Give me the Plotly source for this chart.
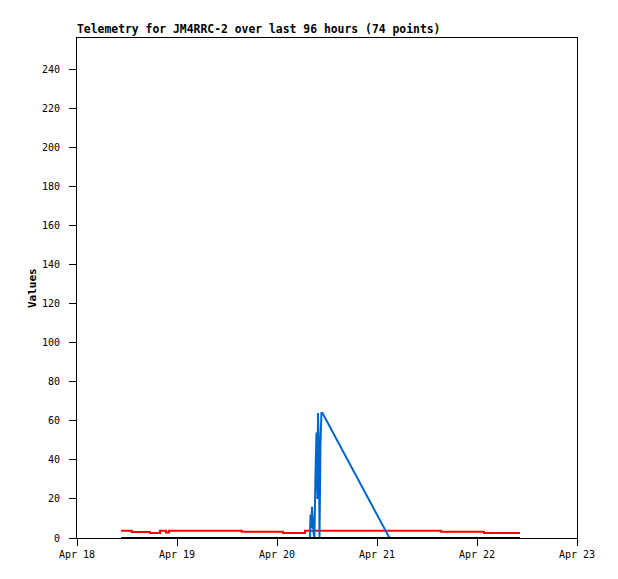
import plotly.graph_objects as go

# telemetry channels (timestamps where the value changes)
red_times = ["2024-04-18 10:34", "2024-04-18 13:08", "2024-04-18 17:31", "2024-04-18 19:55",
             "2024-04-18 21:22", "2024-04-18 22:05", "2024-04-19 15:32", "2024-04-20 01:26",
             "2024-04-20 06:43", "2024-04-21 15:22", "2024-04-22 01:41", "2024-04-22 10:19"]
red_values = [3.7, 3.1, 2.55, 3.7, 2.8, 3.7, 3.2, 2.55, 3.7, 3.2, 2.55, 2.55]

blue_times = ["2024-04-20 07:55", "2024-04-20 08:02", "2024-04-20 08:16", "2024-04-20 08:24",
              "2024-04-20 08:45", "2024-04-20 08:59", "2024-04-20 09:14", "2024-04-20 09:28",
              "2024-04-20 09:43", "2024-04-20 09:50", "2024-04-20 10:05", "2024-04-20 10:12",
              "2024-04-20 10:26", "2024-04-20 10:40", "2024-04-20 10:55", "2024-04-21 03:00"]
blue_values = [0, 12, 5, 16, 3, 0, 32, 54, 20, 64, 45, 0, 48, 64, 64, 0]

black_times = ["2024-04-18 10:34", "2024-04-22 10:19"]
black_values = [0, 0]

x_range = ["2024-04-18", "2024-04-23"]
y_range = [0, 256]

mono = "DejaVu Sans Mono"

fig = go.Figure()
fig.add_scatter(x=red_times, y=red_values, mode="lines", line=dict(color="#ff0000", width=2, shape="hv"))
fig.add_scatter(x=blue_times, y=blue_values, mode="lines", line=dict(color="#0066cc", width=2))
fig.add_scatter(x=black_times, y=black_values, mode="lines", line=dict(color="#000000", width=2))

fig.update_xaxes(range=x_range, type="date", dtick=86400000, tickformat="%b %d",
                 showgrid=False, zeroline=False, showline=True, linecolor="black", linewidth=1,
                 mirror=True, ticks="outside", ticklen=7, tickcolor="black",
                 tickfont=dict(family=mono, size=10, color="black"))
fig.update_yaxes(range=y_range, dtick=20, showgrid=False, zeroline=False, showline=True,
                 linecolor="black", linewidth=1, mirror=True, ticks="outside", ticklen=7,
                 tickcolor="black", ticklabelstandoff=7,
                 tickfont=dict(family=mono, size=10, color="black"))

fig.add_annotation(text="<b>Telemetry for JM4RRC-2 over last 96 hours (74 points)</b>",
                   xref="paper", yref="paper", x=0, y=1, xanchor="left", yanchor="bottom",
                   showarrow=False, xshift=-2, yshift=0, font=dict(family=mono, size=11.4, color="black"))
fig.add_annotation(text="<b>Values</b>", xref="paper", yref="paper", x=-0.09, y=0.5,
                   xanchor="center", yanchor="middle",
                   textangle=-90, showarrow=False, font=dict(family=mono, size=11, color="black"))

# page body adds an 8px offset, so the figure is shrunk to keep the plot box in place
fig.update_layout(width=610, height=571, margin=dict(l=69, r=41, t=30, b=41),
                  plot_bgcolor="white", paper_bgcolor="white", showlegend=False)
fig.write_html("out.html")
